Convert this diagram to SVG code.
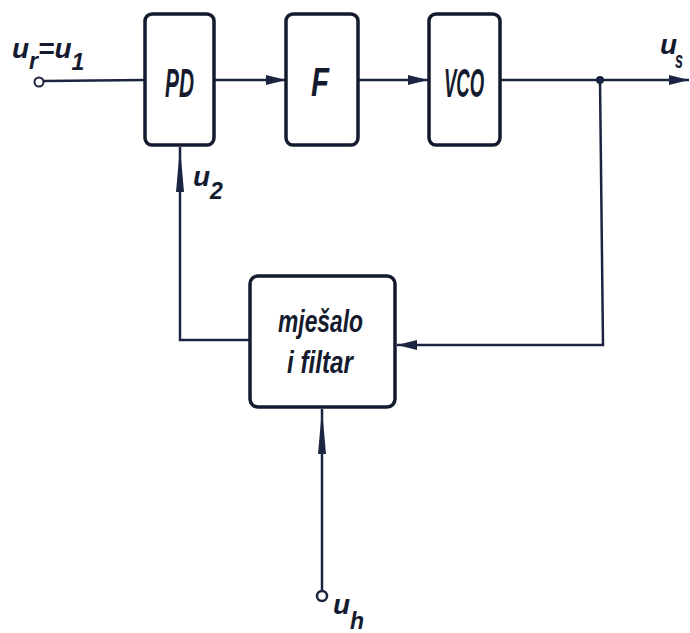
<svg xmlns="http://www.w3.org/2000/svg" width="690" height="633" viewBox="0 0 690 633">
<defs>
<style>
.box{fill:#fff;stroke:#151b2e;stroke-width:3.5}
.ln{fill:none;stroke:#1b2440;stroke-width:2.5}
.t{font-family:"Liberation Sans",Arial,sans-serif;font-style:italic;font-weight:bold;fill:#151b2e}
.blk{font-size:40px}
.mx{font-size:31px}
.lb{font-size:28px}
.sb{font-size:23px}
</style>
<marker id="ah" viewBox="0 0 20 10" refX="20" refY="5" markerWidth="20" markerHeight="10" markerUnits="userSpaceOnUse" orient="auto">
<path d="M0,0 L20,5 L0,10 Z" fill="#1b2440"/>
</marker>
<marker id="ahl" viewBox="0 0 45 10" refX="45" refY="5" markerWidth="45" markerHeight="10" markerUnits="userSpaceOnUse" orient="auto">
<path d="M0,1 L45,5 L0,9 Z" fill="#1b2440"/>
</marker>
</defs>
<g id="connectors">
<circle cx="39" cy="82" r="4.5" fill="#fff" stroke="#1b2440" stroke-width="2"/>
<line class="ln" x1="44" y1="81" x2="145" y2="80"/>
<line class="ln" x1="215" y1="80" x2="286" y2="80" marker-end="url(#ah)"/>
<line class="ln" x1="358" y1="80" x2="428" y2="80" marker-end="url(#ah)"/>
<line class="ln" x1="500" y1="80" x2="689" y2="80" marker-end="url(#ah)"/>
<circle cx="600" cy="80" r="4" fill="#1b2440"/>
<polyline class="ln" points="600,80 603,345 397,345" marker-end="url(#ah)"/>
<polyline class="ln" points="250,340 180,340 180,147" marker-end="url(#ahl)"/>
<circle cx="322" cy="596" r="5" fill="#fff" stroke="#1b2440" stroke-width="2.5"/>
<line class="ln" x1="322" y1="591" x2="322" y2="409" marker-end="url(#ahl)"/>
</g>
<g id="PD">
<rect class="box" x="145" y="14" width="69" height="131" rx="7"/>
<text class="t blk" x="165" y="97" textLength="29" lengthAdjust="spacingAndGlyphs">PD</text>
</g>
<g id="F">
<rect class="box" x="286" y="14" width="72" height="131" rx="7"/>
<text class="t blk" x="311" y="96" textLength="18" lengthAdjust="spacingAndGlyphs">F</text>
</g>
<g id="VCO">
<rect class="box" x="429" y="14" width="71" height="131" rx="7"/>
<text class="t blk" x="444" y="97" textLength="40" lengthAdjust="spacingAndGlyphs">VCO</text>
</g>
<g id="mixer">
<rect class="box" x="250" y="276" width="145" height="131" rx="8"/>
<text class="t mx" x="278" y="332" textLength="85" lengthAdjust="spacingAndGlyphs">mješalo</text>
<text class="t mx" x="287" y="373" textLength="66" lengthAdjust="spacingAndGlyphs">i  filtar</text>
</g>
<g id="labels">
<text class="t lb" x="12" y="58">u<tspan class="sb" dy="11">r</tspan><tspan dy="-11">=u</tspan><tspan class="sb" dy="12">1</tspan></text>
<text class="t lb" x="193" y="186">u<tspan class="sb" dy="13">2</tspan></text>
<text class="t lb" x="333" y="614">u<tspan class="sb" dy="15">h</tspan></text>
<text class="t lb" x="660" y="54">u</text>
<text class="t sb" x="675" y="68" textLength="8" lengthAdjust="spacingAndGlyphs">s</text>
</g>
</svg>
